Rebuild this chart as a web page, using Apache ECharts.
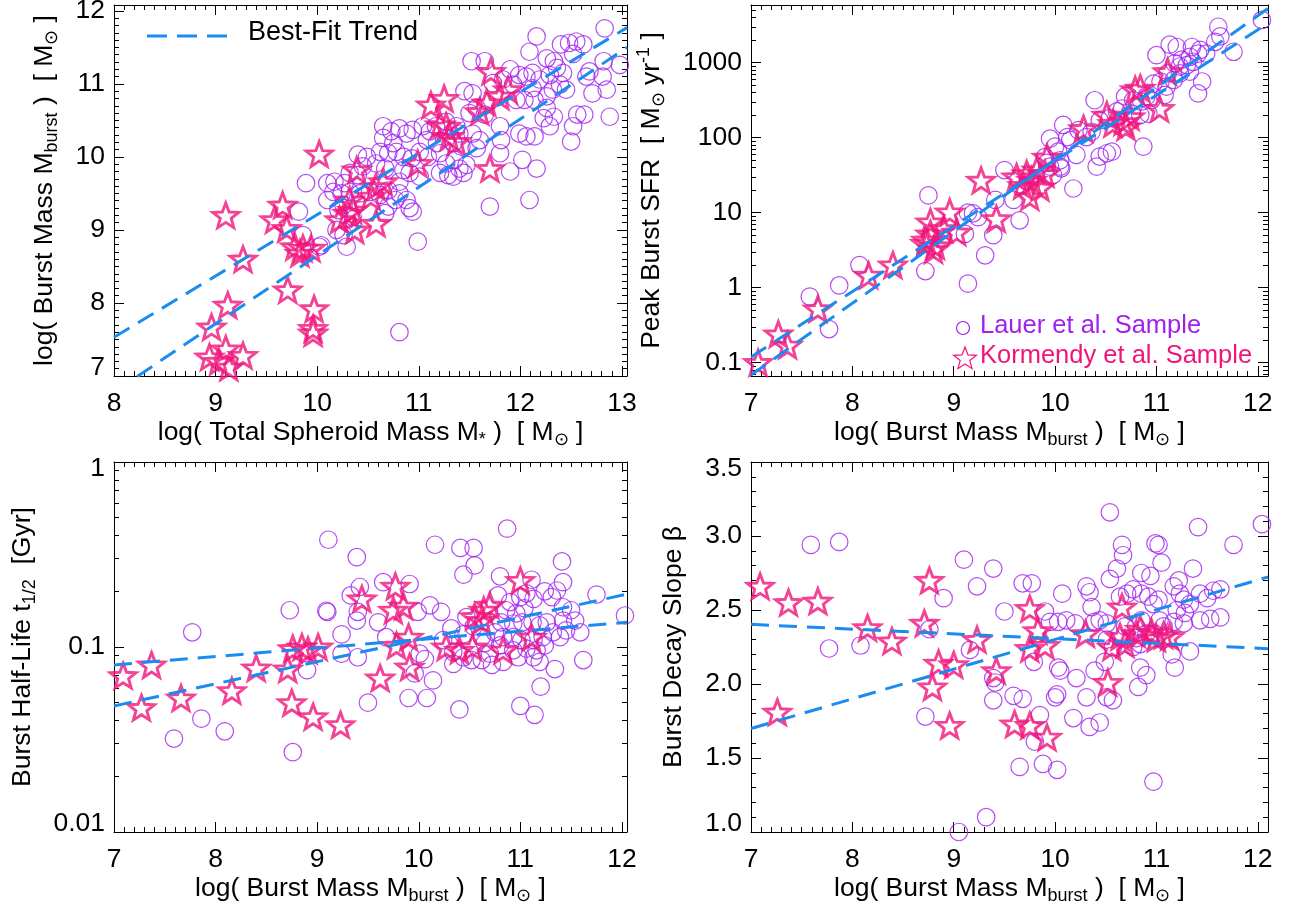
<!DOCTYPE html>
<html>
<head>
<meta charset="utf-8">
<title>Burst properties</title>
<script src="https://cdn.jsdelivr.net/npm/echarts@6.0.0/dist/echarts.min.js"></script>
<style>
html,body{margin:0;padding:0;background:#ffffff;}
#chart{width:1291px;height:912px;}
</style>
</head>
<body>
<div id="chart"></div>
<script>
// ================= DATA =================
// --- tick labels ---
const tlXTicks = [8, 9, 10, 11, 12, 13];
const tlYTicks = [7, 8, 9, 10, 11, 12];
const massTicks = [7, 8, 9, 10, 11, 12];
const sfrTicks = [0.1, 1, 10, 100, 1000];
const sfrTickLabels = ['0.1', '1', '10', '100', '1000'];
const halfLifeTicks = [0.01, 0.1, 1];
const halfLifeTickLabels = ['0.01', '0.1', '1'];
const slopeTicks = [1.0, 1.5, 2.0, 2.5, 3.0, 3.5];
const slopeTickLabels = ['1.0', '1.5', '2.0', '2.5', '3.0', '3.5'];

// --- axis ranges ---
const tlXRange = [8, 13.05];
const tlYRange = [7, 12.08];
const trXRange = [7, 12.1];
const trYRange = [0.0662, 5890];
const blXRange = [7, 12.05];
const blYRange = [0.01, 1];
const brXRange = [7, 12.1];
const brYRange = [1.0, 3.5];

// --- legend / titles ---
const legendTrend = 'Best-Fit Trend';
const legendLauer = 'Lauer et al. Sample';
const legendKormendy = 'Kormendy et al. Sample';

// --- top-left: log M_* vs log M_burst ---
const tlCircles = [[12.83,11.76],[12.16,11.65],[12.09,11.44],[12.40,11.54],[12.48,11.56],[12.55,11.58],[12.62,11.54],[12.52,11.41],[11.52,11.31],[11.65,11.31],[12.26,11.35],[12.33,11.31],[12.82,11.31],[12.98,11.26],[12.68,11.17],[11.99,11.12],[12.06,11.10],[12.12,11.15],[12.19,11.06],[12.29,11.12],[12.39,10.99],[12.45,10.92],[12.32,10.92],[12.26,10.83],[11.93,10.99],[12.12,10.94],[12.14,10.78],[12.81,11.10],[12.85,10.92],[12.71,10.87],[12.65,11.10],[11.45,10.90],[11.53,10.87],[11.57,10.67],[11.50,10.60],[11.65,10.58],[12.26,10.67],[12.33,10.55],[12.23,10.53],[12.29,10.42],[12.56,10.58],[12.63,10.58],[12.88,10.55],[12.52,10.42],[12.50,10.21],[11.99,10.32],[12.06,10.28],[12.14,10.28],[11.80,10.42],[11.81,10.23],[11.80,10.05],[12.02,9.96],[12.16,9.84],[11.90,9.80],[12.09,9.41],[11.70,9.32],[10.99,8.84],[10.81,7.60],[10.65,10.42],[10.73,10.35],[10.81,10.39],[10.88,10.32],[10.94,10.37],[11.04,10.42],[11.11,10.35],[11.17,10.42],[11.27,10.48],[11.08,10.23],[11.18,10.19],[11.37,10.42],[11.40,10.32],[11.34,10.19],[11.42,10.14],[11.53,10.32],[11.60,10.23],[11.57,10.12],[10.65,10.26],[10.75,10.19],[10.62,10.07],[10.70,10.05],[10.78,10.07],[10.85,10.00],[10.93,9.98],[11.01,10.07],[11.09,10.00],[11.21,10.05],[11.27,9.91],[11.35,9.96],[11.40,9.84],[11.47,9.89],[11.21,9.78],[11.29,9.75],[11.34,9.73],[11.44,9.78],[10.85,9.82],[10.91,9.78],[10.81,9.66],[11.01,9.73],[10.40,10.03],[10.49,10.00],[10.45,9.87],[10.58,9.91],[10.67,9.84],[10.32,9.78],[10.40,9.75],[10.27,9.64],[10.17,9.66],[10.16,9.52],[10.24,9.50],[10.32,9.52],[10.42,9.50],[10.52,9.52],[10.62,9.48],[10.70,9.54],[10.77,9.41],[10.81,9.50],[10.88,9.41],[10.91,9.30],[10.94,9.25],[10.67,9.23],[10.70,9.32],[10.21,9.27],[10.26,9.34],[10.35,9.18],[10.19,9.00],[10.26,8.93],[10.29,8.77],[10.04,8.79],[9.89,9.64],[10.10,9.64],[10.10,9.41],[9.82,9.25],[9.86,8.93],[10.02,8.77],[11.83,11.06],[11.90,11.20],[11.73,11.01],[12.36,11.22],[12.42,11.15],[11.96,10.78],[12.04,10.78]];
const tlStars = [[10.02,10.04],[9.10,9.20],[9.66,9.34],[9.58,9.14],[9.70,9.02],[9.27,8.60],[9.78,8.77],[9.86,8.75],[9.94,8.75],[9.83,8.68],[9.71,8.18],[9.97,7.92],[9.96,7.65],[9.96,7.59],[9.12,7.97],[8.96,7.67],[8.94,7.26],[9.10,7.37],[9.27,7.28],[9.13,7.12],[9.03,7.20],[11.71,11.17],[11.12,10.71],[11.25,10.80],[11.27,10.42],[11.30,10.28],[11.37,10.21],[11.21,10.44],[11.60,10.62],[11.67,10.74],[11.80,10.83],[11.88,10.92],[10.99,9.91],[11.70,9.84],[10.39,9.82],[10.58,9.59],[10.65,9.66],[10.53,9.46],[10.32,9.41],[10.35,9.27],[10.30,9.23],[10.22,9.14],[10.37,9.00],[10.58,9.09]];
const tlTrendA = [[8, 7.53], [13.05, 11.77]];
const tlTrendB = [[8, 6.78], [13.05, 11.50]];

// --- top-right: log M_burst vs peak SFR ---
const trCircles = [[8.75,17],[8.72,1.66],[8.07,2.0],[7.87,1.07],[7.58,0.76],[7.77,0.28],[9.14,1.13],[9.11,5.2],[9.14,10],[9.31,2.7],[9.39,5.0],[9.41,14.8],[9.19,9.8],[9.24,8.7],[9.65,7.9],[9.59,14.8],[9.50,37],[10.18,21],[10.41,41],[10.51,62],[10.56,65],[10.44,56],[10.87,76],[9.90,55],[10.00,76],[10.05,41],[9.95,41],[9.92,46],[9.95,97],[10.05,50],[10.12,102],[10.21,59],[10.15,93],[10.03,65],[10.06,39],[9.98,32],[10.08,148],[10.23,126],[10.31,102],[10.36,120],[10.39,316],[10.44,170],[10.54,182],[10.61,224],[10.66,245],[10.69,355],[10.77,316],[10.85,302],[10.90,355],[10.95,316],[10.76,209],[10.84,200],[10.92,209],[10.97,525],[11.04,562],[11.10,479],[11.17,589],[11.08,372],[11.00,1260],[11.13,1740],[11.20,1620],[11.18,980],[11.25,1100],[11.23,890],[11.30,930],[11.36,1030],[11.11,720],[11.23,720],[11.33,760],[11.35,1620],[11.43,1480],[11.41,1320],[11.49,1320],[11.45,562],[11.41,389],[11.61,3020],[11.63,2240],[11.58,1900],[11.76,1400],[12.04,3720],[11.33,1200]];
const trStars = [[7.07,0.10],[7.27,0.24],[7.36,0.17],[7.66,0.52],[8.16,1.46],[8.40,2.0],[8.77,7.5],[8.96,10.2],[8.73,4.3],[8.82,3.6],[8.80,3.2],[8.72,3.9],[8.90,6.1],[9.03,5.5],[8.77,5.2],[9.27,27],[9.42,8.3],[9.62,30],[9.75,16.3],[9.85,21.7],[9.77,27],[9.90,33],[9.92,55],[9.82,37],[9.68,23],[9.72,33],[10.28,132],[10.51,200],[10.57,155],[10.67,163],[10.74,190],[10.70,140],[10.84,457],[10.79,437],[11.03,245],[11.11,760]];
const trTrendA = [[7, 0.068], [12.1, 5300]];
const trTrendB = [[7, 0.119], [12.1, 3360]];

// --- bottom-left: log M_burst vs half-life (Gyr) ---
const blCircles = [[7.77,0.12],[7.59,0.032],[7.86,0.041],[8.09,0.035],[8.73,0.158],[8.76,0.027],[8.90,0.075],[9.09,0.157],[9.11,0.38],[9.39,0.306],[10.87,0.436],[10.16,0.357],[10.41,0.343],[10.54,0.343],[10.55,0.276],[10.44,0.246],[10.80,0.241],[11.11,0.231],[11.41,0.290],[11.42,0.224],[11.75,0.192],[12.03,0.148],[9.33,0.19],[9.42,0.211],[9.65,0.224],[9.91,0.219],[9.10,0.155],[9.39,0.139],[9.40,0.155],[9.60,0.136],[9.24,0.117],[9.24,0.092],[9.40,0.088],[9.68,0.113],[9.99,0.155],[10.11,0.168],[10.22,0.155],[10.01,0.092],[10.06,0.086],[9.96,0.072],[10.14,0.066],[9.50,0.050],[9.90,0.053],[10.08,0.053],[10.40,0.046],[11.00,0.048],[11.14,0.043],[11.20,0.061],[11.34,0.076],[11.62,0.085],[10.32,0.126],[10.44,0.117],[10.24,0.109],[10.34,0.094],[10.34,0.081],[10.44,0.088],[10.52,0.085],[10.62,0.085],[10.72,0.080],[10.83,0.083],[10.78,0.19],[10.90,0.175],[11.00,0.186],[11.06,0.195],[11.13,0.182],[10.86,0.158],[10.96,0.152],[11.04,0.162],[10.81,0.136],[10.93,0.134],[11.02,0.136],[11.12,0.136],[11.19,0.131],[11.26,0.136],[10.75,0.12],[10.83,0.113],[10.93,0.113],[11.01,0.109],[11.13,0.109],[11.22,0.113],[11.32,0.12],[10.80,0.102],[10.93,0.096],[11.06,0.098],[11.16,0.096],[11.24,0.102],[10.98,0.088],[11.13,0.088],[11.19,0.083],[11.24,0.20],[11.31,0.186],[11.36,0.202],[11.42,0.164],[11.50,0.158],[11.54,0.139],[11.42,0.139],[11.45,0.123],[11.59,0.12],[11.39,0.113],[10.62,0.113],[10.54,0.129],[10.47,0.145],[10.65,0.105],[10.70,0.092]];
const blStars = [[7.09,0.070],[7.37,0.080],[7.27,0.047],[7.66,0.053],[8.16,0.058],[8.40,0.077],[8.71,0.076],[8.76,0.098],[8.85,0.100],[8.91,0.096],[9.01,0.100],[8.75,0.050],[8.96,0.042],[9.23,0.038],[9.44,0.182],[9.77,0.213],[9.75,0.158],[9.85,0.166],[9.90,0.113],[9.78,0.102],[9.62,0.068],[9.91,0.078],[10.27,0.100],[10.40,0.096],[10.53,0.100],[10.55,0.146],[10.64,0.158],[10.70,0.168],[10.62,0.139],[10.83,0.096],[11.00,0.229],[11.11,0.113]];
const blTrendA = [[7, 0.080], [12.05, 0.136]];
const blTrendB = [[7, 0.048], [12.05, 0.193]];

// --- bottom-right: log M_burst vs decay slope beta ---
const brCircles = [[7.59,2.94],[7.87,2.96],[7.77,2.24],[8.08,2.26],[8.72,1.78],[8.90,2.58],[8.76,2.37],[9.10,2.84],[9.05,1.0],[10.54,3.16],[11.41,3.06],[12.04,3.08],[11.76,2.94],[10.66,2.94],[10.67,2.87],[10.99,2.95],[11.02,2.94],[11.05,2.82],[10.61,2.78],[10.54,2.71],[10.85,2.75],[10.94,2.73],[11.36,2.78],[9.39,2.78],[9.23,2.66],[9.68,2.68],[9.77,2.68],[9.50,2.49],[10.07,2.61],[10.31,2.66],[10.34,2.62],[10.36,2.52],[9.90,2.49],[9.95,2.42],[10.03,2.42],[10.11,2.43],[10.20,2.41],[10.39,2.42],[10.44,2.43],[10.51,2.41],[10.64,2.59],[10.71,2.61],[10.77,2.64],[10.85,2.61],[10.92,2.59],[10.97,2.54],[11.02,2.57],[11.17,2.66],[11.22,2.70],[11.23,2.61],[11.27,2.57],[11.33,2.54],[11.43,2.61],[11.50,2.58],[11.56,2.63],[11.63,2.64],[11.43,2.43],[11.53,2.44],[11.63,2.45],[11.20,2.50],[11.28,2.48],[11.17,2.42],[11.27,2.41],[11.03,2.43],[11.07,2.39],[10.98,2.34],[10.80,2.39],[10.85,2.43],[10.90,2.34],[10.80,2.31],[10.69,2.39],[10.51,2.30],[10.57,2.25],[10.77,2.25],[10.84,2.27],[11.15,2.20],[11.33,2.22],[11.18,2.11],[10.84,2.11],[10.90,2.06],[10.82,1.98],[10.39,2.09],[10.49,2.15],[10.05,2.09],[10.03,2.11],[10.21,2.04],[10.00,1.91],[10.02,1.93],[10.31,1.91],[10.51,1.91],[10.57,1.89],[9.79,2.15],[9.39,1.89],[9.59,1.92],[9.68,1.90],[9.85,1.79],[10.18,1.77],[10.34,1.71],[10.44,1.74],[9.80,1.61],[9.65,1.44],[9.88,1.46],[10.02,1.42],[10.97,1.34],[9.32,1.10],[9.39,2.04],[9.41,2.01],[9.16,2.23]];
const brStars = [[7.09,2.66],[7.37,2.55],[7.66,2.56],[7.26,1.81],[8.15,2.38],[8.39,2.29],[8.76,2.70],[8.71,2.41],[8.85,2.14],[9.00,2.13],[8.79,1.98],[8.96,1.72],[9.23,2.30],[9.42,2.09],[9.75,2.51],[9.83,2.36],[9.90,2.26],[9.75,2.24],[9.60,1.73],[9.75,1.72],[9.92,1.64],[10.30,2.34],[10.52,2.01],[10.56,2.25],[10.64,2.32],[10.66,2.52],[10.69,2.27],[10.80,2.34],[10.84,2.37],[10.95,2.35],[11.00,2.31],[11.07,2.33],[11.13,2.32]];
const brTrendA = [[7, 2.403], [12.1, 2.239]];
const brTrendB = [[7, 1.699], [12.1, 2.723]];

// ================= STYLE =================
const FONT = '"Liberation Sans", Arial, Helvetica, sans-serif';
const PURPLE = '#A020F0';
const PINK = '#F0147A';
const BLUE = '#1A8CF0';
const INK = '#000000';
const FS = 26.5;      // tick labels and axis titles
const FS_LEG = 25.5;  // sample legend
const FS_TREND = 27;  // trend legend

const NAME_RICH = {
  n: {fontSize: FS, fontFamily: FONT, color: INK, lineHeight: 31},
  s: {fontSize: 18, fontFamily: FONT, color: INK, lineHeight: 31, padding: [15, 0, 0, 0]},
  p: {fontSize: 18, fontFamily: FONT, color: INK, lineHeight: 31, padding: [0, 0, 15, 0]}
};
const LABEL_RICH = {
  m: {fontSize: FS, fontFamily: FONT, color: INK},
  up: {fontSize: FS, fontFamily: FONT, color: INK, padding: [0, 0, 16, 0]},
  dn: {fontSize: FS, fontFamily: FONT, color: INK, padding: [14, 0, 0, 0]}
};

const nameMassStar = '{n|log( Total Spheroid Mass M}{s|*}{n| )  [ M}{s|⊙}{n| ]}';
const nameMassBurst = '{n|log( Burst Mass M}{s|burst}{n| )  [ M}{s|⊙}{n| ]}';
const nameSFR = '{n|Peak Burst SFR  [ M}{s|⊙}{n| yr}{p|-1}{n| ]}';
const nameHalf = '{n|Burst Half-Life t}{s|1/2}{n|  [Gyr]}';
const nameBeta = '{n|Burst Decay Slope β}';

const log10 = Math.log10;

function linMinor(lo, hi, step) {
  const out = [];
  const n = Math.floor((hi - lo) / step + 1e-9);
  for (let i = 0; i <= n; i++) out.push(+(lo + i * step).toFixed(6));
  return out;
}
function logMinor(lo, hi) {
  const out = [];
  for (let d = Math.floor(lo) - 1; d <= Math.ceil(hi); d++) {
    for (let k = 2; k <= 9; k++) {
      const v = d + log10(k);
      if (v > lo && v < hi) out.push(v);
    }
  }
  return out;
}
function makeFmt(values, labels, shiftMin, shiftMax) {
  const n = values.length;
  return function (v) {
    let idx = -1;
    for (let i = 0; i < n; i++) if (Math.abs(values[i] - v) < 1e-6) idx = i;
    if (idx < 0) return '';
    const t = labels[idx];
    if (idx === 0 && shiftMin) return '{up|' + t + '}';
    if (idx === n - 1 && shiftMax) return '{dn|' + t + '}';
    return '{m|' + t + '}';
  };
}

function sideAxes(dim, gi, ext, majors, minors, fmt, name, nameGap, labelMargin) {
  const posA = dim === 'x' ? 'bottom' : 'left';
  const posB = dim === 'x' ? 'top' : 'right';
  const base = {gridIndex: gi, type: 'value', min: ext[0], max: ext[1], scale: true,
    splitLine: {show: false}, splitArea: {show: false}, axisPointer: {show: false}, nameMoveOverlap: false};
  const line = {show: true, onZero: false, lineStyle: {color: INK, width: 1}};
  const noLine = {show: false, onZero: false};
  const tickMaj = {show: true, inside: true, length: 10, customValues: majors, lineStyle: {color: INK, width: 1}};
  const tickMin = {show: true, inside: true, length: 5, customValues: minors, lineStyle: {color: INK, width: 1}};
  return [
    Object.assign({}, base, {position: posA, axisLine: line, axisTick: tickMaj,
      axisLabel: {show: true, customValues: majors, formatter: fmt, margin: labelMargin, color: INK,
        fontSize: FS, fontFamily: FONT, rich: LABEL_RICH, showMinLabel: true, showMaxLabel: true, hideOverlap: false},
      name: name, nameLocation: 'middle', nameGap: nameGap, nameRotate: dim === 'x' ? 0 : 90,
      nameTextStyle: {fontSize: FS, fontFamily: FONT, color: INK, rich: NAME_RICH}}),
    Object.assign({}, base, {position: posA, axisLine: noLine, axisTick: tickMin, axisLabel: {show: false}}),
    Object.assign({}, base, {position: posB, axisLine: line, axisTick: tickMaj, axisLabel: {show: false}}),
    Object.assign({}, base, {position: posB, axisLine: noLine, axisTick: tickMin, axisLabel: {show: false}})
  ];
}

const panels = [
  { grid: {left: 114, top: 5, width: 513, height: 371},
    x: {ext: tlXRange, majors: tlXTicks, labels: tlXTicks.map(String), minors: linMinor(8, 13.05, 0.1), name: nameMassStar, gap: 41},
    y: {ext: tlYRange, majors: tlYTicks, labels: tlYTicks.map(String), minors: linMinor(7, 12.08, 0.1), name: nameMassBurst, gap: 54, sMin: true, sMax: false},
    ylog: false, circles: tlCircles, stars: tlStars, trends: [tlTrendA, tlTrendB] },
  { grid: {left: 751, top: 5, width: 517, height: 371},
    x: {ext: trXRange, majors: massTicks, labels: massTicks.map(String), minors: linMinor(7, 12.1, 0.1), name: nameMassBurst, gap: 41},
    y: {ext: trYRange.map(log10), majors: sfrTicks.map(log10), labels: sfrTickLabels, minors: logMinor(log10(trYRange[0]), log10(trYRange[1])), name: nameSFR, gap: 84, sMin: false, sMax: false},
    ylog: true, circles: trCircles, stars: trStars, trends: [trTrendA, trTrendB] },
  { grid: {left: 114, top: 462, width: 513, height: 370},
    x: {ext: blXRange, majors: massTicks, labels: massTicks.map(String), minors: linMinor(7, 12.05, 0.1), name: nameMassBurst, gap: 41},
    y: {ext: blYRange.map(log10), majors: halfLifeTicks.map(log10), labels: halfLifeTickLabels, minors: logMinor(-2, 0), name: nameHalf, gap: 76, sMin: true, sMax: true},
    ylog: true, circles: blCircles, stars: blStars, trends: [blTrendA, blTrendB] },
  { grid: {left: 751, top: 462, width: 517, height: 370},
    x: {ext: brXRange, majors: massTicks, labels: massTicks.map(String), minors: linMinor(7, 12.1, 0.1), name: nameMassBurst, gap: 41},
    y: {ext: brYRange, majors: slopeTicks, labels: slopeTickLabels, minors: linMinor(1.0, 3.5, 0.1), name: nameBeta, gap: 62, sMin: true, sMax: true},
    ylog: false, circles: brCircles, stars: brStars, trends: [brTrendA, brTrendB] }
];

// star symbol (unit 5-point star path)
function starPath(inner) {
  let d = '';
  for (let i = 0; i < 10; i++) {
    const r = i % 2 === 0 ? 1 : inner;
    const a = -Math.PI / 2 + i * Math.PI / 5;
    d += (i ? 'L' : 'M') + (r * Math.cos(a)).toFixed(4) + ' ' + (r * Math.sin(a)).toFixed(4) + ' ';
  }
  return 'path://' + d + 'Z';
}
function starPoints(cx, cy, R, inner) {
  const pts = [];
  for (let i = 0; i < 10; i++) {
    const r = i % 2 === 0 ? R : R * inner;
    const a = -Math.PI / 2 + i * Math.PI / 5;
    pts.push([cx + r * Math.cos(a), cy + r * Math.sin(a)]);
  }
  return pts;
}
const STAR = starPath(0.42);

const option = {
  animation: false,
  backgroundColor: '#ffffff',
  grid: [], xAxis: [], yAxis: [], series: [],
  graphic: [
    {type: 'line', silent: true, shape: {x1: 147, y1: 36, x2: 233, y2: 36},
      style: {stroke: BLUE, lineWidth: 3, lineDash: [20, 10]}},
    {type: 'text', silent: true, x: 248, y: 33,
      style: {text: legendTrend, fill: INK, fontSize: FS_TREND, fontFamily: FONT, verticalAlign: 'middle', align: 'left'}},
    {type: 'circle', silent: true, shape: {cx: 963, cy: 328, r: 6.5},
      style: {fill: 'none', stroke: PURPLE, lineWidth: 1.2}},
    {type: 'text', silent: true, x: 980, y: 326,
      style: {text: legendLauer, fill: PURPLE, fontSize: FS_LEG, fontFamily: FONT, verticalAlign: 'middle', align: 'left'}},
    {type: 'polygon', silent: true, shape: {points: starPoints(965, 359, 12, 0.42)},
      style: {fill: 'none', stroke: PINK, lineWidth: 1.2}},
    {type: 'text', silent: true, x: 980, y: 356,
      style: {text: legendKormendy, fill: PINK, fontSize: FS_LEG, fontFamily: FONT, verticalAlign: 'middle', align: 'left'}}
  ]
};

panels.forEach(function (p, gi) {
  option.grid.push(Object.assign({containLabel: false, outerBoundsMode: 'none', show: false}, p.grid));
  const xa = sideAxes('x', gi, p.x.ext, p.x.majors, p.x.minors,
    makeFmt(p.x.majors, p.x.labels, false, false), p.x.name, p.x.gap, 14);
  const ya = sideAxes('y', gi, p.y.ext, p.y.majors, p.y.minors,
    makeFmt(p.y.majors, p.y.labels, p.y.sMin, p.y.sMax), p.y.name, p.y.gap, 9);
  xa.forEach(function (a) { option.xAxis.push(a); });
  ya.forEach(function (a) { option.yAxis.push(a); });
});

function tf(arr, isLog) {
  return arr.map(function (d) { return [d[0], isLog ? log10(d[1]) : d[1]]; });
}

panels.forEach(function (p, gi) {
  option.series.push({
    type: 'scatter', name: legendLauer, xAxisIndex: gi * 4, yAxisIndex: gi * 4, z: 2, silent: true,
    data: tf(p.circles, p.ylog), symbol: 'circle', symbolSize: 17.5,
    itemStyle: {color: 'rgba(255,255,255,0)', borderColor: PURPLE, borderWidth: 1.2},
    emphasis: {disabled: true}
  });
});
panels.forEach(function (p, gi) {
  option.series.push({
    type: 'scatter', name: legendKormendy, xAxisIndex: gi * 4, yAxisIndex: gi * 4, z: 3, silent: true,
    data: tf(p.stars, p.ylog), symbol: STAR, symbolSize: 26, symbolKeepAspect: true,
    itemStyle: {color: 'rgba(255,255,255,0)', borderColor: PINK, borderWidth: 2.9},
    emphasis: {disabled: true}
  });
});
panels.forEach(function (p, gi) {
  p.trends.forEach(function (t) {
    option.series.push({
      type: 'line', name: legendTrend, xAxisIndex: gi * 4, yAxisIndex: gi * 4, z: 4, silent: true,
      data: tf(t, p.ylog), showSymbol: false, symbol: 'none', clip: true,
      lineStyle: {color: BLUE, width: 3, type: [18, 10]},
      emphasis: {disabled: true}
    });
  });
});

const chart = echarts.init(document.getElementById('chart'), null, {renderer: 'canvas', width: 1291, height: 912});
chart.setOption(option);
</script>
</body>
</html>
